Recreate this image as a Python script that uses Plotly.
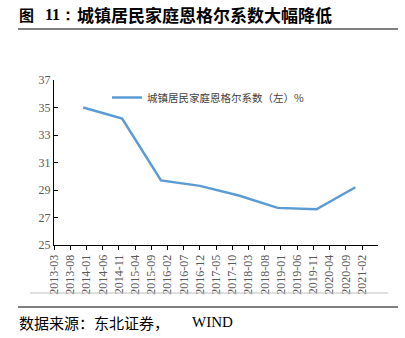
import plotly.graph_objects as go

# Data
dates = ["2013-12-01", "2014-12-01", "2015-12-01", "2016-12-01", "2017-12-01",
         "2018-12-01", "2019-12-01", "2020-12-01"]
engel = [35.0, 34.2, 29.7, 29.3, 28.6, 27.7, 27.6, 29.2]
tick_labels = ["2013-03", "2013-08", "2014-01", "2014-06", "2014-11", "2015-04",
               "2015-09", "2016-02", "2016-07", "2016-12", "2017-05", "2017-10",
               "2018-03", "2018-08", "2019-01", "2019-06", "2019-11", "2020-04",
               "2020-09", "2021-02"]
series_name = "城镇居民家庭恩格尔系数（左）%"
title_num = "11："
title_text = "城镇居民家庭恩格尔系数大幅降低"
source_cn = "数据来源：东北证券，"
source_en = "WIND"

W, H = 405, 338
L, R, T, B = 54, 27, 80, 93
ph = H - T - B
pw = W - L - R

def py(p):
    return (H - B - p) / ph

def px(p):
    return (p - L) / pw

CJK = "Noto Sans CJK SC"
SERIF = "Liberation Serif"

fig = go.Figure()
fig.add_trace(go.Scatter(
    x=dates, y=engel, mode="lines", name=series_name,
    line=dict(color="#5B9BD5", width=2.5),
))

fig.update_layout(
    width=W, height=H,
    margin=dict(l=L, r=R, t=T, b=B),
    paper_bgcolor="white", plot_bgcolor="white",
    showlegend=True,
    legend=dict(x=px(107), y=py(83), xanchor="left", yanchor="top",
                font=dict(family=CJK, size=10.5, color="#404040"),
                bgcolor="rgba(0,0,0,0)", itemwidth=30),
    xaxis=dict(
        type="date",
        range=["2013-03-01", "2021-07-01"],
        tickvals=[t + "-01" for t in tick_labels],
        ticktext=tick_labels,
        tickangle=-90,
        ticks="outside", ticklen=4, tickcolor="#000",
        showline=True, linecolor="#000", linewidth=1,
        showgrid=False, zeroline=False,
        tickfont=dict(family=SERIF, size=12, color="#595959"),
    ),
    yaxis=dict(
        range=[25, 37], tick0=25, dtick=2,
        ticks="inside", ticklen=4, tickcolor="#000",
        showline=True, linecolor="#000", linewidth=1,
        showgrid=False, zeroline=False,
        tickfont=dict(family=SERIF, size=12, color="#595959"),
    ),
    annotations=[
        dict(text="<b>图</b>", x=px(17), y=py(14), xref="paper", yref="paper",
             xanchor="left", yanchor="middle", showarrow=False,
             font=dict(family=CJK, size=15, color="#000")),
        dict(text="<b>" + title_num + "</b>", x=px(43), y=py(14), xref="paper", yref="paper",
             xanchor="left", yanchor="middle", showarrow=False,
             font=dict(family=SERIF, size=16, color="#000")),
        dict(text="<b>" + title_text + "</b>", x=px(75), y=py(14), xref="paper", yref="paper",
             xanchor="left", yanchor="middle", showarrow=False,
             font=dict(family=CJK, size=17, color="#000")),
        dict(text=source_cn, x=px(17), y=py(322), xref="paper", yref="paper",
             xanchor="left", yanchor="middle", showarrow=False,
             font=dict(family=CJK, size=15, color="#000")),
        dict(text=source_en, x=px(190), y=py(322), xref="paper", yref="paper",
             xanchor="left", yanchor="middle", showarrow=False,
             font=dict(family=SERIF, size=15, color="#000")),
    ],
    shapes=[
        dict(type="line", xref="paper", yref="paper", x0=px(18), x1=px(398),
             y0=py(29), y1=py(29), line=dict(color="#000", width=1)),
        dict(type="line", xref="paper", yref="paper", x0=px(30), x1=px(388),
             y0=py(293), y1=py(293), line=dict(color="#BFBFBF", width=1)),
        dict(type="line", xref="paper", yref="paper", x0=px(18), x1=px(398),
             y0=py(307), y1=py(307), line=dict(color="#000", width=1)),
    ],
)

fig.write_html("out.html")
